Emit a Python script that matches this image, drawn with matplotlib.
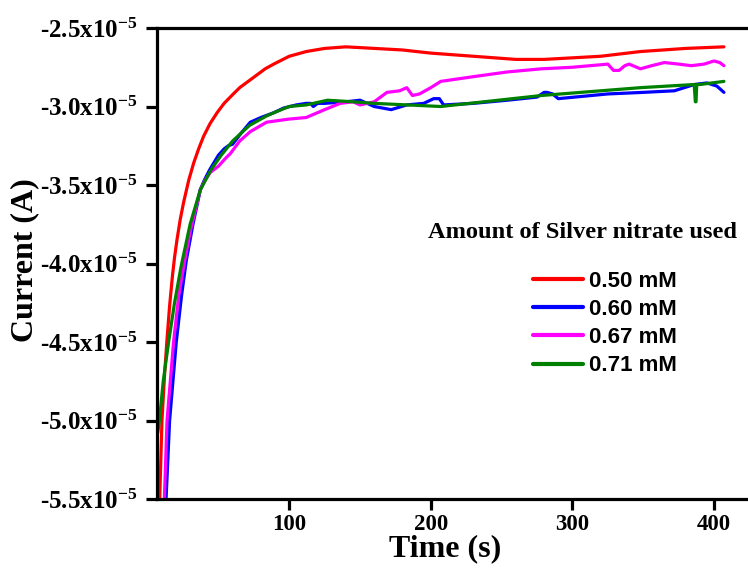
import numpy as np
import matplotlib
matplotlib.use("Agg")
import matplotlib.pyplot as plt
from matplotlib.ticker import FixedLocator, FuncFormatter

plt.rcParams["font.family"] = "Liberation Serif"
plt.rcParams["font.weight"] = "bold"
plt.rcParams["mathtext.fontset"] = "custom"
plt.rcParams["mathtext.rm"] = "Liberation Serif:bold"
plt.rcParams["mathtext.it"] = "Liberation Serif:bold"
plt.rcParams["mathtext.bf"] = "Liberation Serif:bold"

# current values in units of 1e-5 A
red_t = [7.5, 8.5, 10.1, 12, 13.7, 15.5, 17.5, 19, 20.7, 23, 25.4, 29, 32.5, 36, 39.5, 44,
         49, 54, 60.5, 65, 71, 77, 83, 89, 100, 112, 125, 140, 160, 180, 200, 230, 260, 280,
         300, 320, 348, 380, 407]
red_i = [-5.7, -5.5, -5.0, -4.7, -4.48, -4.27, -4.08, -3.96, -3.85, -3.72, -3.61, -3.47,
         -3.36, -3.27, -3.19, -3.11, -3.04, -2.98, -2.92, -2.88, -2.84, -2.80, -2.76, -2.73,
         -2.68, -2.65, -2.63, -2.62, -2.63, -2.64, -2.66, -2.68, -2.70, -2.70, -2.69, -2.68,
         -2.65, -2.63, -2.62]

blue_t = [12, 13, 15.5, 20.2, 24, 27.3, 32, 37.2, 40, 44, 50, 54, 57, 60, 66, 72.5, 80, 89,
          96, 105, 112, 115, 117, 120, 125, 140, 150, 155, 160, 166, 172, 183, 195, 202, 206,
          209, 230, 254, 275, 280, 282, 286, 290, 325, 350, 372, 386, 395, 402, 407]
blue_i = [-5.8, -5.5, -5.0, -4.5, -4.2, -3.98, -3.75, -3.53, -3.47, -3.4, -3.31, -3.27,
          -3.25, -3.24, -3.17, -3.1, -3.07, -3.04, -3.01, -2.99, -2.98, -2.98, -3.0, -2.98,
          -2.98, -2.97, -2.96, -2.98, -3.0, -3.01, -3.02, -2.99, -2.98, -2.95, -2.95, -2.99,
          -2.98, -2.96, -2.94, -2.91, -2.91, -2.92, -2.95, -2.92, -2.91, -2.90, -2.86, -2.85,
          -2.87, -2.91]

magenta_t = [11, 11.8, 13.7, 18.3, 22, 25.4, 30, 37.2, 40.5, 44.2, 50, 55, 58.4, 65, 72.5,
             84, 100, 112, 125, 136, 145, 150, 160, 169, 178, 183, 187, 192, 200, 207, 230,
             254, 278, 300, 325, 329, 333, 337, 340, 348, 356, 365, 375, 384, 393, 400, 404,
             407]
magenta_i = [-5.8, -5.5, -5.0, -4.5, -4.2, -4.02, -3.8, -3.53, -3.47, -3.42, -3.38, -3.33,
             -3.3, -3.22, -3.16, -3.1, -3.08, -3.07, -3.02, -2.98, -2.97, -2.99, -2.97, -2.91,
             -2.90, -2.88, -2.93, -2.92, -2.88, -2.84, -2.81, -2.78, -2.76, -2.75, -2.73,
             -2.77, -2.77, -2.74, -2.73, -2.76, -2.74, -2.72, -2.73, -2.74, -2.73, -2.71,
             -2.72, -2.74]

green_t = [7.1, 8.3, 11, 14.8, 19, 23.6, 30, 37.2, 45, 52, 60, 72, 84, 89, 100, 112, 127,
           145, 160, 207, 278, 348, 386, 386.8, 387.3, 387.8, 390, 407]
green_i = [-5.08, -5.0, -4.75, -4.5, -4.25, -4.02, -3.75, -3.53, -3.4, -3.31, -3.22, -3.12,
           -3.06, -3.04, -3.0, -2.99, -2.96, -2.97, -2.98, -3.0, -2.93, -2.88, -2.86, -2.97,
           -2.97, -2.86, -2.86, -2.84]

series = [
    ("0.50 mM", red_t, red_i, "#ff0000"),
    ("0.60 mM", blue_t, blue_i, "#0000ff"),
    ("0.67 mM", magenta_t, magenta_i, "#ff00ff"),
    ("0.71 mM", green_t, green_i, "#008000"),
]

y_ticks = [-5.5, -5.0, -4.5, -4.0, -3.5, -3.0, -2.5]
x_ticks = [100, 200, 300, 400]

fig = plt.figure(figsize=(7.48, 5.72), dpi=100)
ax = fig.add_axes([157 / 748, 73 / 572, 1 - 157 / 748, 471 / 572])

for label, t, cur, color in series:
    ax.plot(t, np.array(cur) * 1e-5, color=color, lw=2.3, label=label,
            solid_capstyle="round", solid_joinstyle="round")

ax.set_xlim(6.6, 424)
ax.set_ylim(-5.5e-5, -2.5e-5)

ax.yaxis.set_major_locator(FixedLocator([v * 1e-5 for v in y_ticks]))
ax.yaxis.set_major_formatter(FuncFormatter(
    lambda v, pos: "%.1fx10$^{-5}$" % (v * 1e5)))
ax.xaxis.set_major_locator(FixedLocator(x_ticks))

ax.tick_params(direction="out", length=8, width=2.3)
ax.tick_params(axis="y", labelsize=18, pad=6)
ax.tick_params(axis="x", labelsize=16.5, pad=3)
ax.spines["right"].set_visible(False)
for s in ["left", "bottom", "top"]:
    ax.spines[s].set_linewidth(2.3)

ax.set_xlabel("Time (s)", fontsize=23, fontweight="bold")
ax.set_ylabel("Current (A)", fontsize=23, fontweight="bold")
ax.xaxis.set_label_coords(0.487, -0.074)
ax.yaxis.set_label_coords(-0.2, 0.507)

ax.text(428 / 748, 1 - 232 / 572, "Amount of Silver nitrate used", transform=fig.transFigure,
        ha="left", va="center", fontweight="bold", fontsize=17.6)

leg = ax.legend(loc="upper left", bbox_to_anchor=(533 / 748, 1 - 271 / 572),
                bbox_transform=fig.transFigure, frameon=False, borderpad=0,
                borderaxespad=0, handlelength=2.25, handletextpad=0.25, labelspacing=0.32,
                prop={"family": "Liberation Sans", "weight": "bold", "size": 16})
for line in leg.get_lines():
    line.set_linewidth(3)

fig.savefig("out.png", dpi=100)
